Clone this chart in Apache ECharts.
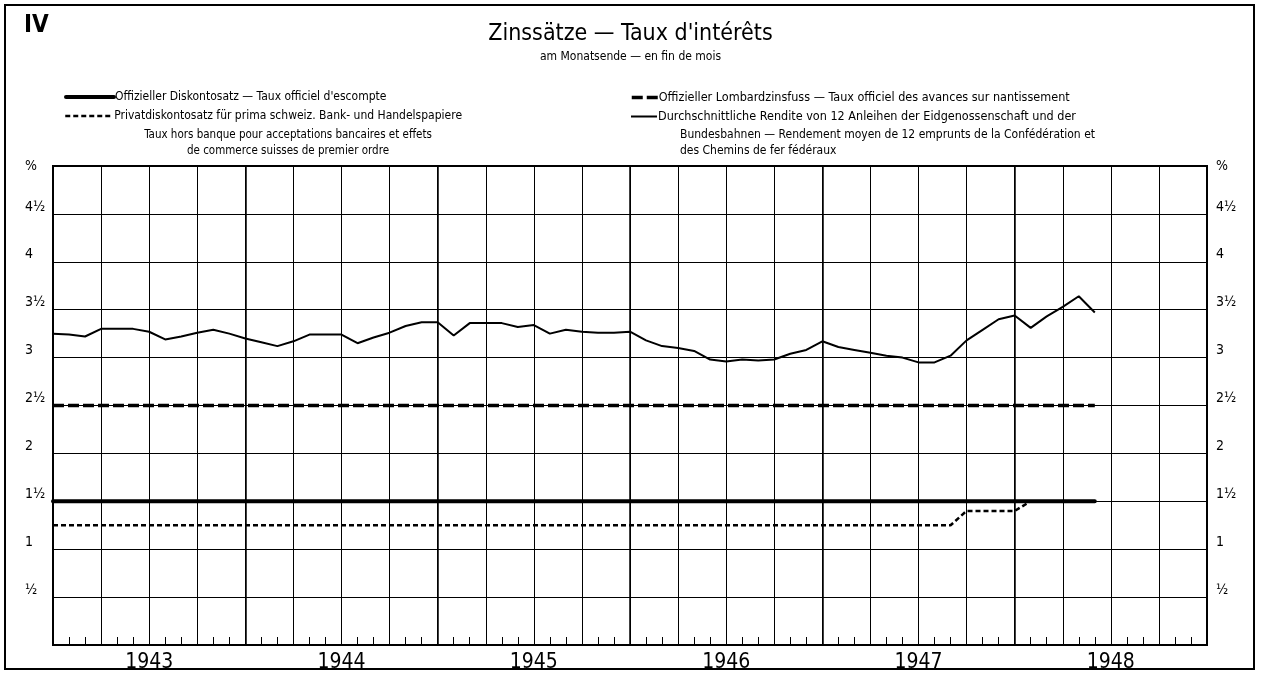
<!DOCTYPE html>
<html>
<head>
<meta charset="utf-8">
<title>Zinssätze — Taux d'intérêts</title>
<script src="https://cdn.jsdelivr.net/npm/echarts@6/dist/echarts.min.js"></script>
<style>
  html, body { margin: 0; padding: 0; background: #fff; }
  #main { width: 1261px; height: 674px; }
</style>
</head>
<body>
<div id="main"></div>
<script>
// Zinssätze, Monatsende Dez. 1942 (Index 0) bis Mai 1948 (Index 65)
var yearLabels = ['1943', '1944', '1945', '1946', '1947', '1948'];
var yTickLabels = ['', '½', '1', '1½', '2', '2½', '3', '3½', '4', '4½', '%'];

// Offizieller Diskontosatz
var diskont = [
  1.5,
  1.5, 1.5, 1.5, 1.5, 1.5, 1.5, 1.5, 1.5, 1.5, 1.5, 1.5, 1.5,
  1.5, 1.5, 1.5, 1.5, 1.5, 1.5, 1.5, 1.5, 1.5, 1.5, 1.5, 1.5,
  1.5, 1.5, 1.5, 1.5, 1.5, 1.5, 1.5, 1.5, 1.5, 1.5, 1.5, 1.5,
  1.5, 1.5, 1.5, 1.5, 1.5, 1.5, 1.5, 1.5, 1.5, 1.5, 1.5, 1.5,
  1.5, 1.5, 1.5, 1.5, 1.5, 1.5, 1.5, 1.5, 1.5, 1.5, 1.5, 1.5,
  1.5, 1.5, 1.5, 1.5, 1.5
];
// Offizieller Lombardzinsfuss
var lombard = [
  2.5,
  2.5, 2.5, 2.5, 2.5, 2.5, 2.5, 2.5, 2.5, 2.5, 2.5, 2.5, 2.5,
  2.5, 2.5, 2.5, 2.5, 2.5, 2.5, 2.5, 2.5, 2.5, 2.5, 2.5, 2.5,
  2.5, 2.5, 2.5, 2.5, 2.5, 2.5, 2.5, 2.5, 2.5, 2.5, 2.5, 2.5,
  2.5, 2.5, 2.5, 2.5, 2.5, 2.5, 2.5, 2.5, 2.5, 2.5, 2.5, 2.5,
  2.5, 2.5, 2.5, 2.5, 2.5, 2.5, 2.5, 2.5, 2.5, 2.5, 2.5, 2.5,
  2.5, 2.5, 2.5, 2.5, 2.5
];
// Privatdiskontosatz
var privat = [
  1.25,
  1.25, 1.25, 1.25, 1.25, 1.25, 1.25, 1.25, 1.25, 1.25, 1.25, 1.25, 1.25,
  1.25, 1.25, 1.25, 1.25, 1.25, 1.25, 1.25, 1.25, 1.25, 1.25, 1.25, 1.25,
  1.25, 1.25, 1.25, 1.25, 1.25, 1.25, 1.25, 1.25, 1.25, 1.25, 1.25, 1.25,
  1.25, 1.25, 1.25, 1.25, 1.25, 1.25, 1.25, 1.25, 1.25, 1.25, 1.25, 1.25,
  1.25, 1.25, 1.25, 1.25, 1.25, 1.25, 1.25, 1.25, 1.40, 1.40, 1.40, 1.40,
  1.5, 1.5, 1.5, 1.5, 1.5
];
// Durchschnittliche Rendite von 12 Anleihen
var rendite = [
  3.25,
  3.24, 3.22, 3.30, 3.30, 3.30, 3.27, 3.19, 3.22, 3.26, 3.29, 3.25, 3.20,
  3.16, 3.12, 3.17, 3.24, 3.24, 3.24, 3.15, 3.21, 3.26, 3.33, 3.37, 3.37,
  3.23, 3.36, 3.36, 3.36, 3.32, 3.34, 3.25, 3.29, 3.27, 3.26, 3.26, 3.27,
  3.18, 3.12, 3.10, 3.07, 2.98, 2.96, 2.98, 2.97, 2.98, 3.04, 3.08, 3.17,
  3.11, 3.08, 3.05, 3.02, 3.00, 2.95, 2.95, 3.02, 3.18, 3.29, 3.40, 3.44,
  3.31, 3.43, 3.53, 3.64, 3.47
];

var nameDiskont = 'Offizieller Diskontosatz — Taux officiel d\'escompte';
var nameLombard = 'Offizieller Lombardzinsfuss — Taux officiel des avances sur nantissement';
var namePrivat = 'Privatdiskontosatz für prima schweiz. Bank- und Handelspapiere';
var nameRendite = 'Durchschnittliche Rendite von 12 Anleihen der Eidgenossenschaft und der';

var FONT = "'Liberation Sans Narrow', 'DejaVu Sans Condensed', 'Liberation Sans', sans-serif";

// Monatsindex -> [x, y]
function toPairs(arr) {
  return arr.map(function (v, i) { return [i, v]; });
}

var myChart = echarts.init(document.getElementById('main'), null, { renderer: 'canvas' });

function legendAt(name, left, top, w, fs) {
  return {
    data: [name],
    left: left,
    top: top,
    padding: 0,
    orient: 'horizontal',
    itemWidth: w,
    itemHeight: 12,
    itemGap: 2,
    selectedMode: false,
    itemStyle: { color: 'rgba(0,0,0,0)', borderWidth: 0, opacity: 0 },
    lineStyle: { width: 'inherit', type: 'inherit' },
    textStyle: { color: '#000', fontSize: fs, fontFamily: FONT, padding: [0, 0, 0, -4] }
  };
}

// y-Beschriftung: Zahlen etwas über der Linie, "%" auf der Linie
function yLabel(v) {
  var t = yTickLabels[Math.round(v * 2)];
  if (t === '') return '';
  return t === '%' ? '{p|%}' : '{n|' + t + '}';
}
var yRich = {
  p: { fontSize: 14, fontFamily: FONT, color: '#000' },
  n: { fontSize: 14, fontFamily: FONT, color: '#000', padding: [0, 0, 14, 0] }
};

var option = {
  backgroundColor: '#fff',
  animation: false,
  textStyle: { fontFamily: FONT, color: '#000' },
  title: {
    text: 'Zinssätze — Taux d\'intérêts',
    subtext: 'am Monatsende — en fin de mois',
    left: 'center',
    top: 18,
    itemGap: 5,
    textStyle: { color: '#000', fontSize: 23, fontWeight: 'normal', fontFamily: FONT },
    subtextStyle: { color: '#000', fontSize: 12, fontFamily: FONT }
  },
  legend: [
    legendAt(nameDiskont, 64, 91, 48, 12),
    legendAt(namePrivat, 64, 110, 48, 12),
    legendAt(nameLombard, 630, 91, 26, 12.5),
    legendAt(nameRendite, 630, 110, 26, 12.5)
  ],
  graphic: [
    {
      type: 'rect',
      shape: { x: 5, y: 5, width: 1249, height: 664 },
      style: { fill: 'none', stroke: '#000', lineWidth: 2 },
      silent: true
    },
    {
      type: 'text', left: 24, top: 14,
      style: { text: 'IV', fontSize: 24, fontWeight: 'bold', fontFamily: FONT, fill: '#000' }
    },
    {
      type: 'text', x: 288, y: 135,
      style: { text: 'Taux hors banque pour acceptations bancaires et effets', fontSize: 11.5, fontFamily: FONT, fill: '#000', align: 'center', verticalAlign: 'middle' }
    },
    {
      type: 'text', x: 288, y: 151,
      style: { text: 'de commerce suisses de premier ordre', fontSize: 11.5, fontFamily: FONT, fill: '#000', align: 'center', verticalAlign: 'middle' }
    },
    {
      type: 'text', x: 680, y: 135,
      style: { text: 'Bundesbahnen — Rendement moyen de 12 emprunts de la Confédération et', fontSize: 12, fontFamily: FONT, fill: '#000', verticalAlign: 'middle' }
    },
    {
      type: 'text', x: 680, y: 151,
      style: { text: 'des Chemins de fer fédéraux', fontSize: 12, fontFamily: FONT, fill: '#000', verticalAlign: 'middle' }
    }
  ],
  grid: {
    left: 53, right: 54, top: 166, bottom: 29,
    show: true, borderColor: '#000', borderWidth: 2
  },
  xAxis: [
    {
      type: 'value', min: 0, max: 72, interval: 3,
      axisLine: { show: true, lineStyle: { color: '#000', width: 2 } },
      axisTick: { show: true, inside: true, length: 8, lineStyle: { color: '#000', width: 1 } },
      minorTick: { show: true, splitNumber: 3, length: 8, lineStyle: { color: '#000', width: 1 } },
      splitLine: { show: true, lineStyle: { color: '#000', width: 1 } },
      axisLabel: {
        color: '#000', fontSize: 21, margin: 7, fontFamily: FONT,
        formatter: function (v) {
          return (v % 12 === 6) ? yearLabels[(v - 6) / 12] : '';
        }
      }
    },
    {
      // etwas kräftigere Jahreslinien
      type: 'value', min: 0, max: 72, interval: 12, position: 'bottom',
      axisLine: { show: false }, axisTick: { show: false }, axisLabel: { show: false },
      splitLine: { show: true, lineStyle: { color: '#000', width: 1.5 } }
    }
  ],
  yAxis: [
    {
      type: 'value', min: 0, max: 5, interval: 0.5, position: 'left',
      axisLine: { show: true, lineStyle: { color: '#000', width: 2 } },
      axisTick: { show: false },
      splitLine: { show: true, lineStyle: { color: '#000', width: 1 } },
      axisLabel: {
        margin: 28, align: 'left', verticalAlign: 'middle',
        formatter: yLabel, rich: yRich
      }
    },
    {
      type: 'value', min: 0, max: 5, interval: 0.5, position: 'right',
      axisLine: { show: true, lineStyle: { color: '#000', width: 2 } },
      axisTick: { show: false },
      splitLine: { show: false },
      axisLabel: {
        margin: 9, align: 'left', verticalAlign: 'middle',
        formatter: yLabel, rich: yRich
      }
    }
  ],
  series: [
    {
      name: namePrivat, type: 'line', data: toPairs(privat), symbol: 'none',
      lineStyle: { color: '#000', width: 2.5, type: [5, 3] }, z: 3
    },
    {
      name: nameDiskont, type: 'line', data: toPairs(diskont), symbol: 'none',
      lineStyle: { color: '#000', width: 4, cap: 'round' }, z: 4
    },
    {
      name: nameLombard, type: 'line', data: toPairs(lombard), symbol: 'none',
      lineStyle: { color: '#000', width: 3.5, type: [11, 4] }, z: 3
    },
    {
      name: nameRendite, type: 'line', data: toPairs(rendite), symbol: 'none',
      lineStyle: { color: '#000', width: 2 }, z: 5
    }
  ]
};

myChart.setOption(option);
</script>
</body>
</html>
